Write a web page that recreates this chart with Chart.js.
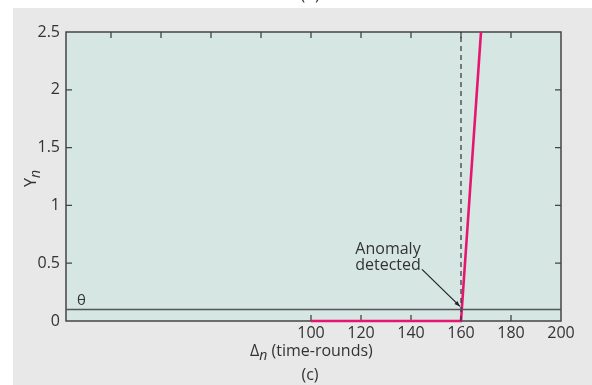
<!DOCTYPE html>
<html>
<head>
<meta charset="utf-8">
<script src="https://cdn.jsdelivr.net/npm/chart.js@4.4.0/dist/chart.umd.min.js"></script>
<style>
  body { margin: 0; background: #fff; }
  canvas { display: block; }
</style>
</head>
<body>
<canvas class="js-graph" width="592" height="385"></canvas>
<script>
// data
const rounds = [100, 160, 168]
const yValues = [0, 0, 2.5]
const theta = 0.1
const detectedAt = 160
const xRange = [2, 200]
const yRange = [0, 2.5]
const xTicks = [20, 40, 60, 80, 100, 120, 140, 160, 180, 200]
const xLabels = [100, 120, 140, 160, 180, 200]
const yTicks = [0, 0.5, 1, 1.5, 2, 2.5]

const textColor = '#333'
const font = '"Open Sans", sans-serif'

const backgrounds = {
  id: 'backgrounds',
  beforeDraw(chart) {
    const { ctx, chartArea: a } = chart
    ctx.save()
    ctx.fillStyle = '#fff'
    ctx.fillRect(0, 0, chart.width, chart.height)
    ctx.fillStyle = '#e8e8e8'
    ctx.fillRect(13, 8, chart.width - 13, chart.height - 8)
    ctx.fillStyle = '#d6e6e3'
    ctx.fillRect(a.left, a.top, a.right - a.left, a.bottom - a.top)
    ctx.restore()
  },
  beforeDatasetsDraw(chart) {
    const { ctx, chartArea: a } = chart
    const x = chart.scales.x
    const y = chart.scales.y
    ctx.save()
    ctx.strokeStyle = '#444'
    ctx.lineWidth = 1.5
    ctx.strokeRect(a.left, a.top, a.right - a.left, a.bottom - a.top)

    // inward tick marks
    const tl = 6
    ctx.lineWidth = 1.3
    ctx.beginPath()
    xTicks.forEach((v) => {
      if (v >= xRange[1]) return
      const px = x.getPixelForValue(v)
      ctx.moveTo(px, a.top)
      ctx.lineTo(px, a.top + tl)
      if (xLabels.includes(v)) {
        ctx.moveTo(px, a.bottom)
        ctx.lineTo(px, a.bottom - tl)
      }
    })
    yTicks.forEach((v) => {
      if (v <= yRange[0] || v >= yRange[1]) return
      const py = y.getPixelForValue(v)
      ctx.moveTo(a.left, py)
      ctx.lineTo(a.left + tl, py)
      ctx.moveTo(a.right, py)
      ctx.lineTo(a.right - tl, py)
    })
    ctx.stroke()
    ctx.restore()
  },
}

const labels = {
  id: 'labels',
  afterDraw(chart) {
    const { ctx, chartArea: a } = chart
    const x = chart.scales.x
    const y = chart.scales.y
    ctx.save()
    ctx.fillStyle = textColor
    // theta label
    ctx.font = '15px ' + font
    ctx.textAlign = 'left'
    ctx.textBaseline = 'alphabetic'
    ctx.fillText('θ', a.left + 11, y.getPixelForValue(theta) - 4)

    // annotation
    const ax = x.getPixelForValue(detectedAt)
    const ay = y.getPixelForValue(theta)
    ctx.font = '16px ' + font
    ctx.textAlign = 'center'
    ctx.fillText('Anomaly', ax - 73, ay - 55)
    ctx.fillText('detected', ax - 73, ay - 39)
    const sx = ax - 39, sy = ay - 40
    const ex = ax - 1, ey = ay - 3
    ctx.strokeStyle = '#222'
    ctx.lineWidth = 1.2
    ctx.beginPath()
    ctx.moveTo(sx, sy)
    ctx.lineTo(ex, ey)
    ctx.stroke()
    const ang = Math.atan2(ey - sy, ex - sx)
    ctx.beginPath()
    ctx.moveTo(ex, ey)
    ctx.lineTo(ex - 6 * Math.cos(ang - 0.35), ey - 6 * Math.sin(ang - 0.35))
    ctx.lineTo(ex - 6 * Math.cos(ang + 0.35), ey - 6 * Math.sin(ang + 0.35))
    ctx.closePath()
    ctx.fillStyle = '#222'
    ctx.fill()

    // axis titles
    ctx.fillStyle = textColor
    ctx.textAlign = 'left'
    ctx.font = '16px ' + font
    const tx = 250, ty = 356
    ctx.fillText('Δ', tx, ty)
    const dw = ctx.measureText('Δ').width
    ctx.font = 'italic 14px ' + font
    ctx.fillText('n', tx + dw, ty + 4)
    const nw = ctx.measureText('n').width
    ctx.font = '16px ' + font
    ctx.fillText(' (time-rounds)', tx + dw + nw, ty)
    ctx.textAlign = 'center'
    ctx.fillText('(c)', 310, 380)
    ctx.fillText('(b)', 310, 0)

    ctx.save()
    ctx.translate(36, 187)
    ctx.rotate(-Math.PI / 2)
    ctx.textAlign = 'left'
    ctx.font = '16px ' + font
    ctx.fillText('Y', 0, 0)
    const yw = ctx.measureText('Y').width
    ctx.font = 'italic 14px ' + font
    ctx.fillText('n', yw, 4)
    ctx.restore()

    ctx.restore()
  },
}

let chart

const drawChart = function () {
  const ctx = document.querySelector('.js-graph')
  chart = new Chart(ctx, {
    type: 'scatter',
    data: {
      datasets: [
        {
          label: 'theta',
          data: [{ x: xRange[0], y: theta }, { x: xRange[1], y: theta }],
          showLine: true,
          borderColor: '#555',
          borderWidth: 1.5,
          pointRadius: 0,
        },
        {
          label: 'detected',
          data: [{ x: detectedAt, y: yRange[0] }, { x: detectedAt, y: yRange[1] }],
          showLine: true,
          borderColor: '#333',
          borderWidth: 1.2,
          borderDash: [5, 4],
          pointRadius: 0,
        },
        {
          label: 'Yn',
          data: rounds.map((r, i) => ({ x: r, y: yValues[i] })),
          showLine: true,
          borderColor: 'rgb(230, 22, 112)',
          borderWidth: 2.6,
          pointRadius: 0,
          clip: { left: 5, top: 0, right: 5, bottom: 5 },
        },
      ],
    },
    options: {
      responsive: false,
      animation: false,
      devicePixelRatio: 1,
      layout: { padding: { top: 32, right: 31, left: 0, bottom: 0 } },
      plugins: { legend: { display: false }, tooltip: { enabled: false } },
      scales: {
        x: {
          type: 'linear',
          min: xRange[0],
          max: xRange[1],
          grid: { display: false, drawTicks: false },
          border: { display: false },
          afterBuildTicks: (s) => { s.ticks = xTicks.map((v) => ({ value: v })) },
          afterFit: (s) => { s.height = 64 },
          ticks: {
            padding: 3,
            maxRotation: 0,
            autoSkip: false,
            color: textColor,
            font: { family: font, size: 16 },
            callback: (v) => (xLabels.includes(v) ? String(v) : ''),
          },
        },
        y: {
          min: yRange[0],
          max: yRange[1],
          grid: { display: false, drawTicks: false },
          border: { display: false },
          afterBuildTicks: (s) => { s.ticks = yTicks.map((v) => ({ value: v })) },
          afterFit: (s) => { s.width = 66 },
          ticks: {
            padding: 6,
            autoSkip: false,
            color: textColor,
            font: { family: font, size: 16 },
            callback: (v) => String(v),
          },
        },
      },
    },
    plugins: [backgrounds, labels],
  })
}

document.addEventListener('DOMContentLoaded', function () {
  drawChart()
})
</script>
</body>
</html>
